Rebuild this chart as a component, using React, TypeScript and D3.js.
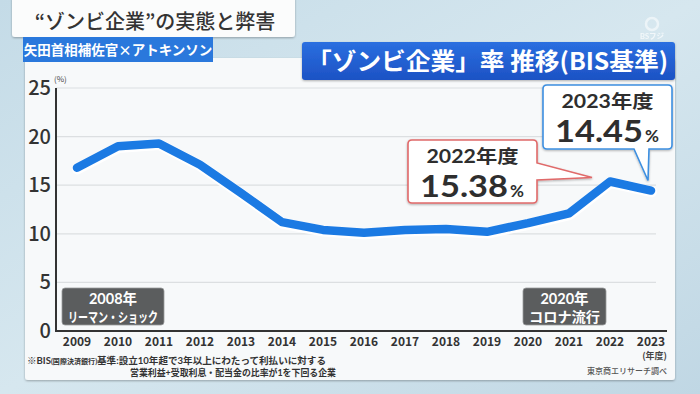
import React, { useEffect, useRef } from "react";
import * as d3 from "d3";

const W = 700;
const H = 394;
const JP = "'Noto Sans CJK JP', 'Noto Sans', sans-serif";
const NUM = "Lato, 'Noto Sans CJK JP', sans-serif";

const years = ["2009", "2010", "2011", "2012", "2013", "2014", "2015", "2016", "2017", "2018", "2019", "2020", "2021", "2022", "2023"];
const rates = [16.8, 19.0, 19.3, 17.1, 14.2, 11.2, 10.4, 10.1, 10.4, 10.5, 10.2, 11.1, 12.1, 15.38, 14.45];
const yTicks = [0, 5, 10, 15, 20, 25];

const callouts = [
  { year: "2022", label: "2022年度", value: "15.38", color: "#e06a6a" },
  { year: "2023", label: "2023年度", value: "14.45", color: "#3d8fe0" },
];
const events = [
  { year: "2009", line1: "2008年", line2: "リーマン・ショック" },
  { year: "2020", line1: "2020年", line2: "コロナ流行" },
];

export default function App() {
  const ref = useRef<SVGSVGElement>(null);

  useEffect(() => {
    const x = d3.scalePoint<string>().domain(years).range([77, 651]);
    const y = d3.scaleLinear().domain([0, 25]).range([331, 88]);

    const svg = d3.select(ref.current);
    svg.selectAll("*").remove();

    const defs = svg.append("defs");
    const bg = defs.append("linearGradient").attr("id", "bg").attr("x1", 0).attr("x2", 1).attr("y1", 0).attr("y2", 1);
    bg.append("stop").attr("offset", "0%").attr("stop-color", "#c4dbe7");
    bg.append("stop").attr("offset", "50%").attr("stop-color", "#d6e7ef");
    bg.append("stop").attr("offset", "100%").attr("stop-color", "#c0d7e4");
    const blue = defs.append("linearGradient").attr("id", "blue").attr("x1", 0).attr("x2", 0).attr("y1", 0).attr("y2", 1);
    blue.append("stop").attr("offset", "0%").attr("stop-color", "#2a6fe0");
    blue.append("stop").attr("offset", "100%").attr("stop-color", "#1d52c4");
    defs.append("filter").attr("id", "sh").append("feDropShadow")
      .attr("dx", 0).attr("dy", 1).attr("stdDeviation", 1.2).attr("flood-opacity", 0.3);

    svg.append("rect").attr("width", W).attr("height", H).attr("fill", "url(#bg)");

    // panel
    svg.append("rect").attr("x", 25).attr("y", 58).attr("width", 650).attr("height", 322)
      .attr("rx", 3).attr("fill", "#f7f9fa").attr("filter", "url(#sh)");

    // header
    svg.append("rect").attr("x", 12).attr("y", -4).attr("width", 283).attr("height", 41)
      .attr("rx", 3).attr("fill", "#fbfcfc").attr("filter", "url(#sh)");
    svg.append("text").attr("x", 155).attr("y", 29).attr("text-anchor", "middle")
      .attr("font-family", JP).attr("font-size", 20).attr("font-weight", 500).attr("fill", "#333")
      .text("“ゾンビ企業”の実態と弊害");

    svg.append("rect").attr("x", 23).attr("y", 37).attr("width", 190).attr("height", 25)
      .attr("fill", "#2a78dc");
    svg.append("text").attr("x", 118).attr("y", 55).attr("text-anchor", "middle")
      .attr("font-family", JP).attr("font-size", 13.5).attr("font-weight", 700).attr("fill", "#fff")
      .text("矢田首相補佐官×アトキンソン");

    // watermark
    svg.append("circle").attr("cx", 652).attr("cy", 24).attr("r", 6)
      .attr("fill", "none").attr("stroke", "#ffffff").attr("stroke-width", 2.5).attr("opacity", 0.55);
    svg.append("text").attr("x", 652).attr("y", 38.5).attr("text-anchor", "middle")
      .attr("font-family", NUM).attr("font-size", 7.5).attr("font-weight", 700)
      .attr("fill", "#ffffff").attr("opacity", 0.7).text("BSフジ");

    // title
    svg.append("rect").attr("x", 302).attr("y", 42).attr("width", 373).attr("height", 38)
      .attr("rx", 3).attr("fill", "url(#blue)").attr("filter", "url(#sh)");
    svg.append("text").attr("x", 307).attr("y", 70)
      .attr("font-family", JP).attr("font-size", 24).attr("font-weight", 700).attr("fill", "#fff")
      .attr("textLength", 361).attr("lengthAdjust", "spacingAndGlyphs")
      .text("「ゾンビ企業」率 推移(BIS基準)");

    // grid
    svg.append("g").selectAll("line").data(yTicks.filter((t) => t > 0)).join("line")
      .attr("x1", 56).attr("x2", 656).attr("y1", (d) => y(d)).attr("y2", (d) => y(d))
      .attr("stroke", "#dcdfe1").attr("stroke-width", 1.2);

    // axes
    svg.append("line").attr("x1", 56).attr("x2", 56).attr("y1", y(25)).attr("y2", y(0))
      .attr("stroke", "#333").attr("stroke-width", 2);
    svg.append("line").attr("x1", 55).attr("x2", 667).attr("y1", y(0)).attr("y2", y(0))
      .attr("stroke", "#333").attr("stroke-width", 2.2);

    svg.append("g").selectAll("text").data(yTicks).join("text")
      .attr("x", 51).attr("y", (d) => y(d) + 7).attr("text-anchor", "end")
      .attr("font-family", JP).attr("font-size", 20).attr("font-weight", 500).attr("fill", "#333")
      .text((d) => d);
    svg.append("text").attr("x", 54).attr("y", 82).attr("font-family", JP)
      .attr("font-size", 8).attr("fill", "#444").text("(%)");

    svg.append("g").selectAll("text").data(years).join("text")
      .attr("x", (d) => x(d)!).attr("y", 346).attr("text-anchor", "middle")
      .attr("font-family", JP).attr("font-size", 12).attr("font-weight", 700).attr("fill", "#333")
      .text((d) => d);
    svg.append("text").attr("x", 667).attr("y", 359).attr("text-anchor", "end")
      .attr("font-family", JP).attr("font-size", 9).attr("font-weight", 700).attr("fill", "#444")
      .text("(年度)");

    // event boxes
    const evOffset = [-15, -5];
    const evWidth = [102, 83];
    const ev = svg.append("g").selectAll("g").data(events).join("g")
      .attr("transform", (d, i) => `translate(${x(d.year)! + evOffset[i]},288)`);
    ev.append("rect").attr("width", (d, i) => evWidth[i]).attr("height", 37)
      .attr("rx", 3).attr("fill", "#5b5d5e").attr("stroke", "#9a9c9d").attr("stroke-width", 0.8);
    ev.append("text").attr("x", (d, i) => evWidth[i] / 2).attr("y", 16)
      .attr("text-anchor", "middle").attr("font-family", NUM).attr("font-size", 14.5).attr("font-weight", 700)
      .attr("fill", "#fff").text((d) => d.line1);
    ev.append("text").attr("x", (d, i) => evWidth[i] / 2).attr("y", 33.5)
      .attr("text-anchor", "middle").attr("font-family", NUM).attr("font-size", 13.5).attr("font-weight", 700)
      .attr("fill", "#fff").attr("textLength", (d, i) => evWidth[i] - 12).attr("lengthAdjust", "spacingAndGlyphs")
      .text((d) => d.line2);

    // line
    const pts = years.map((yr, i) => [x(yr)!, y(rates[i])] as [number, number]);
    const line = d3.line();
    svg.append("path").attr("d", line(pts)).attr("fill", "none").attr("stroke", "#ffffff")
      .attr("stroke-width", 11).attr("stroke-linejoin", "round").attr("stroke-linecap", "round")
      .attr("transform", "translate(0.5,1.2)").attr("opacity", 0.95);
    svg.append("path").attr("d", line(pts)).attr("fill", "none").attr("stroke", "#1b7ae3")
      .attr("stroke-width", 8.5).attr("stroke-linejoin", "round").attr("stroke-linecap", "round");

    // callouts
    const c22 = callouts[0];
    const p22: [number, number] = [x(c22.year)! - 18, y(15.38) - 4];
    const b22 = { x: 408, y: 140, w: 129, h: 63 };
    const path22 = `M${b22.x + 4},${b22.y} H${b22.x + b22.w - 4} Q${b22.x + b22.w},${b22.y} ${b22.x + b22.w},${b22.y + 4}
      V${b22.y + 23} L${p22[0]},${p22[1]} L${b22.x + b22.w},${b22.y + 40}
      V${b22.y + b22.h - 4} Q${b22.x + b22.w},${b22.y + b22.h} ${b22.x + b22.w - 4},${b22.y + b22.h}
      H${b22.x + 4} Q${b22.x},${b22.y + b22.h} ${b22.x},${b22.y + b22.h - 4} V${b22.y + 4} Q${b22.x},${b22.y} ${b22.x + 4},${b22.y} Z`;

    const c23 = callouts[1];
    const p23: [number, number] = [x(c23.year)! - 3, y(14.45) - 10];
    const b23 = { x: 543, y: 85, w: 129, h: 64 };
    const path23 = `M${b23.x + 4},${b23.y} H${b23.x + b23.w - 4} Q${b23.x + b23.w},${b23.y} ${b23.x + b23.w},${b23.y + 4}
      V${b23.y + b23.h - 4} Q${b23.x + b23.w},${b23.y + b23.h} ${b23.x + b23.w - 4},${b23.y + b23.h}
      H${b23.x + 106} L${p23[0]},${p23[1]} L${b23.x + 91},${b23.y + b23.h}
      H${b23.x + 4} Q${b23.x},${b23.y + b23.h} ${b23.x},${b23.y + b23.h - 4} V${b23.y + 4} Q${b23.x},${b23.y} ${b23.x + 4},${b23.y} Z`;

    const boxes = [
      { d: path22, c: c22, b: b22 },
      { d: path23, c: c23, b: b23 },
    ];
    boxes.forEach(({ d, c, b }) => {
      svg.append("path").attr("d", d).attr("fill", "#ffffff").attr("stroke", c.color)
        .attr("stroke-width", 1.6).attr("filter", "url(#sh)");
      svg.append("text").attr("x", b.x + b.w / 2).attr("y", b.y + 23).attr("text-anchor", "middle")
        .attr("font-family", NUM).attr("font-size", 18).attr("font-weight", 700).attr("fill", "#2e2e2e")
        .attr("textLength", 92).attr("lengthAdjust", "spacingAndGlyphs")
        .text(c.label);
      const t = svg.append("text").attr("x", b.x + 12).attr("y", b.y + 57)
        .attr("font-family", NUM).attr("font-weight", 700).attr("fill", "#2e2e2e");
      t.append("tspan").attr("font-size", 31).attr("textLength", 88).attr("lengthAdjust", "spacingAndGlyphs").text(c.value);
      t.append("tspan").attr("font-size", 17).attr("dx", 2).text("%");
    });

    // footnotes
    const f1 = svg.append("text").attr("x", 27).attr("y", 363.5).attr("font-family", NUM)
      .attr("font-size", 9.5).attr("font-weight", 700).attr("fill", "#333")
      .attr("textLength", 299).attr("lengthAdjust", "spacingAndGlyphs");
    f1.append("tspan").text("※BIS");
    f1.append("tspan").attr("font-size", 7).text("(国際決済銀行)");
    f1.append("tspan").text("基準:設立10年超で3年以上にわたって利払いに対する");
    svg.append("text").attr("x", 130).attr("y", 376).attr("font-family", NUM)
      .attr("font-size", 9.5).attr("font-weight", 700).attr("fill", "#333")
      .attr("textLength", 206).attr("lengthAdjust", "spacingAndGlyphs")
      .text("営業利益+受取利息・配当金の比率が1を下回る企業");
    svg.append("text").attr("x", 667).attr("y", 374).attr("text-anchor", "end").attr("font-family", JP)
      .attr("font-size", 8).attr("font-weight", 500).attr("fill", "#555").text("東京商エリサーチ調べ");
  }, []);

  return (
    <svg ref={ref} width={W} height={H} style={{ position: "absolute", left: 0, top: 0 }} />
  );
}
